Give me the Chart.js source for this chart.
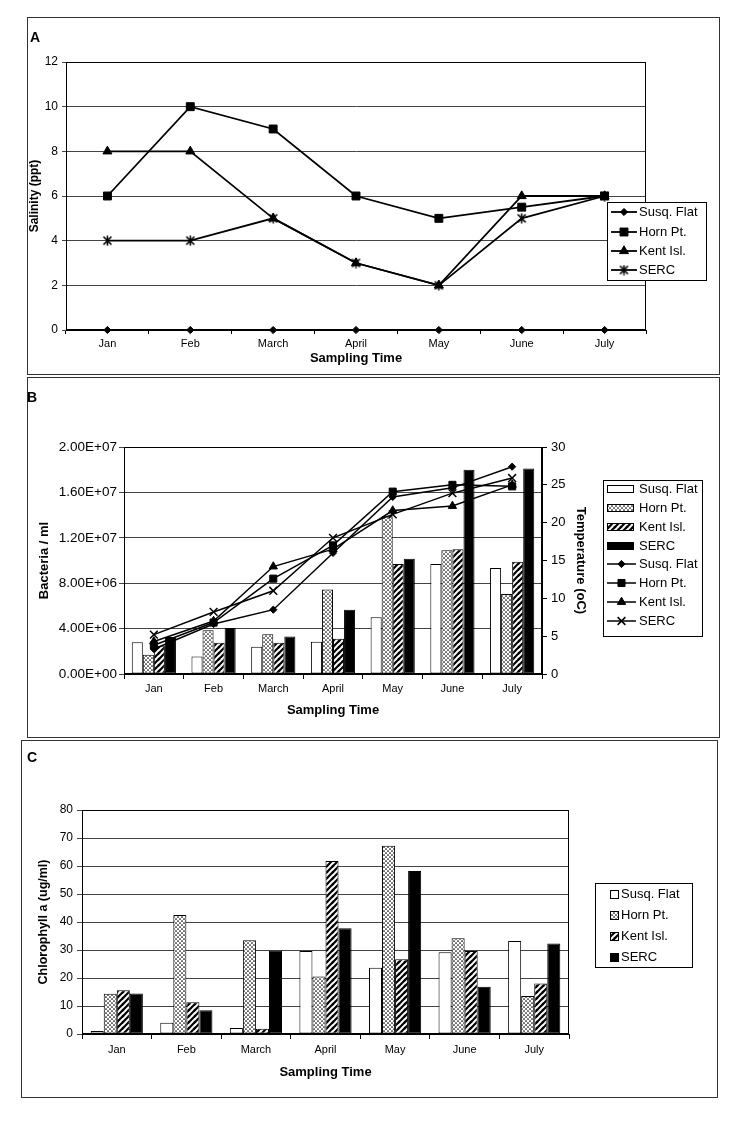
<!DOCTYPE html>
<html><head><meta charset="utf-8">
<script src="https://cdn.jsdelivr.net/npm/chart.js@4.4.0/dist/chart.umd.min.js"></script>
<style>
body{margin:0;background:#fff;width:733px;height:1122px;position:relative;overflow:hidden;font-family:"Liberation Sans",Arial,sans-serif;}
.panel{position:absolute;box-sizing:border-box;border:1px solid #333;}
canvas{position:absolute;}
.lbl{position:absolute;font-weight:bold;font-size:14px;line-height:14px;color:#000;}
</style></head><body>
<div class="panel" style="left:27px;top:17px;width:693px;height:358px"></div>
<div class="panel" style="left:27px;top:377px;width:693px;height:361px"></div>
<div class="panel" style="left:21px;top:740px;width:697px;height:358px"></div>
<canvas id="cA" width="693" height="358" style="left:27px;top:17px"></canvas>
<canvas id="cB" width="693" height="361" style="left:27px;top:377px"></canvas>
<canvas id="cC" width="697" height="358" style="left:21px;top:740px"></canvas>
<div class="lbl" style="left:30px;top:30px">A</div>
<div class="lbl" style="left:27px;top:390px">B</div>
<div class="lbl" style="left:27px;top:750px">C</div>
<script>
// ---------- DATA ----------
const months = ['Jan','Feb','March','April','May','June','July'];
const sites = ['Susq. Flat','Horn Pt.','Kent Isl.','SERC'];

// Panel A: salinity (ppt)
const salinitySusq = [0, 0, 0, 0, 0, 0, 0];
const salinityHorn = [6, 10, 9, 6, 5, 5.5, 6];
const salinityKent = [8, 8, 5, 3, 2, 6, 6];
const salinitySERC = [4, 4, 5, 3, 2, 5, 6];
const salinityTicks = [0, 2, 4, 6, 8, 10, 12];

// Panel B: bacteria / ml (bars) and temperature oC (lines)
const bacteriaSusq = [2.8e6, 1.55e6, 2.4e6, 2.85e6, 5.0e6, 9.7e6, 9.35e6];
const bacteriaHorn = [1.7e6, 3.85e6, 3.5e6, 7.45e6, 13.9e6, 10.9e6, 7.05e6];
const bacteriaKent = [2.5e6, 2.75e6, 2.75e6, 3.1e6, 9.7e6, 11.0e6, 9.9e6];
const bacteriaSERC = [3.25e6, 4.05e6, 3.3e6, 5.65e6, 10.15e6, 18.0e6, 18.1e6];
const tempSusq = [3.3, 6.6, 8.5, 16.0, 23.4, 24.6, 27.4];
const tempHorn = [3.8, 6.8, 12.6, 17.0, 24.1, 25.0, 24.8];
const tempKent = [4.3, 7.0, 14.2, 16.5, 21.6, 22.2, 25.0];
const tempSERC = [5.2, 8.2, 11.0, 18.0, 21.1, 23.9, 25.9];
const bacteriaTicks = [0, 4e6, 8e6, 12e6, 16e6, 20e6];
const tempTicks = [0, 5, 10, 15, 20, 25, 30];

// Panel C: chlorophyll a (ug/ml)
const chlSusq = [1.1, 4.0, 2.1, 29.6, 23.7, 29.2, 33.2];
const chlHorn = [14.4, 42.5, 33.5, 20.5, 67.2, 34.2, 13.6];
const chlKent = [15.6, 11.3, 1.9, 61.8, 26.7, 29.6, 18.0];
const chlSERC = [14.5, 8.5, 29.7, 37.8, 58.2, 16.9, 32.3];
const chlTicks = [0, 10, 20, 30, 40, 50, 60, 70, 80];

// ---------- STYLE HELPERS ----------
const FONT = "'Liberation Sans', Arial, sans-serif";
Chart.defaults.font.family = FONT;
Chart.defaults.color = '#000';
const GRID = '#444';

function dotTile(){
  const c=document.createElement('canvas'); c.width=4; c.height=4;
  const g=c.getContext('2d'); g.fillStyle='#fff'; g.fillRect(0,0,4,4);
  g.fillStyle='#000';
  g.beginPath(); g.arc(1,1,0.85,0,Math.PI*2); g.fill();
  g.beginPath(); g.arc(3,3,0.85,0,Math.PI*2); g.fill();
  return c;
}
function hatchTile(){
  const c=document.createElement('canvas'); c.width=6; c.height=6;
  const g=c.getContext('2d'); g.fillStyle='#fff'; g.fillRect(0,0,6,6);
  g.strokeStyle='#000'; g.lineWidth=2.2; g.lineCap='square';
  [[-6,6,6,-6],[0,6,6,0],[0,12,12,0]].forEach(([a,b,cc,d])=>{g.beginPath();g.moveTo(a,b);g.lineTo(cc,d);g.stroke();});
  g.beginPath(); g.moveTo(-3,3); g.lineTo(3,-3); g.stroke();
  g.beginPath(); g.moveTo(3,9); g.lineTo(9,3); g.stroke();
  return c;
}
function starMarker(){
  const c=document.createElement('canvas'); c.width=11; c.height=11;
  const g=c.getContext('2d'); g.strokeStyle='#000'; g.lineWidth=1.6;
  g.beginPath(); g.moveTo(1.5,1.5); g.lineTo(9.5,9.5); g.moveTo(9.5,1.5); g.lineTo(1.5,9.5);
  g.moveTo(5.5,0.5); g.lineTo(5.5,10.5); g.stroke();
  return c;
}
function patterns(canvas){
  const ctx=canvas.getContext('2d');
  return {dot: ctx.createPattern(dotTile(),'repeat'), hatch: ctx.createPattern(hatchTile(),'repeat')};
}
function sciLabel(v){
  if(v===0) return '0.00E+00';
  const e=Math.floor(Math.log10(v)); const m=v/Math.pow(10,e);
  return m.toFixed(2)+'E+'+String(e).padStart(2,'0');
}

const framePlugin = {
  id:'frame',
  afterDraw(chart){
    const a=chart.chartArea, ctx=chart.ctx;
    ctx.save(); ctx.strokeStyle='#000'; ctx.lineWidth=1;
    ctx.strokeRect(Math.round(a.left)+0.5, Math.round(a.top)+0.5, Math.round(a.right-a.left)-1, Math.round(a.bottom-a.top)-1);
    ctx.restore();
  }
};

function makeLegend(o){
  return {
    id:'boxLegend',
    afterDraw(chart){
      const ctx=chart.ctx; ctx.save();
      ctx.fillStyle='#fff'; ctx.fillRect(o.x,o.y,o.w,o.h);
      ctx.strokeStyle='#000'; ctx.lineWidth=1;
      ctx.strokeRect(o.x+0.5,o.y+0.5,o.w,o.h);
      ctx.font=o.fontSize+'px '+FONT; ctx.textBaseline='middle'; ctx.textAlign='left';
      chart.data.datasets.forEach((ds,i)=>{
        const y=o.rows[i];
        const isLine=(ds.type||chart.config.type)==='line';
        if(isLine){
          ctx.strokeStyle='#000'; ctx.lineWidth=ds.borderWidth;
          ctx.beginPath(); ctx.moveTo(o.lineX0,y); ctx.lineTo(o.lineX1,y); ctx.stroke();
          ctx.fillStyle=ds.pointBackgroundColor; ctx.strokeStyle=ds.pointBorderColor; ctx.lineWidth=ds.pointBorderWidth;
          Chart.helpers.drawPoint(ctx,{pointStyle:ds.pointStyle,radius:ds.pointRadius,rotation:0,borderWidth:ds.pointBorderWidth},(o.lineX0+o.lineX1)/2,y);
        } else {
          const top=Math.round(y-o.swH/2);
          ctx.fillStyle=ds.backgroundColor; ctx.fillRect(o.swX,top,o.swW,o.swH);
          ctx.strokeStyle='#000'; ctx.lineWidth=1; ctx.strokeRect(o.swX+0.5,top+0.5,o.swW-1,o.swH-1);
        }
        ctx.fillStyle='#000'; ctx.fillText(ds.label,o.textX,y+0.5);
      });
      ctx.restore();
    }
  };
}

function lineDs(label,data,style,radius,extra){
  return Object.assign({type:'line',label,data,borderColor:'#000',backgroundColor:'#000',borderWidth:1.8,
    pointStyle:style,pointRadius:radius,pointHoverRadius:radius,pointBackgroundColor:'#000',pointBorderColor:'#000',
    pointBorderWidth:1,tension:0,fill:false,clip:false},extra||{});
}
function barDs(label,data,bg,catPct,extra){
  return Object.assign({type:'bar',label,data,backgroundColor:bg,borderColor:'#000',borderWidth:1,borderSkipped:false,
    barPercentage:1,categoryPercentage:catPct},extra||{});
}

// ---------- PANEL A ----------
(function(){
  const cv=document.getElementById('cA');
  new Chart(cv,{
    type:'line',
    data:{labels:months,datasets:[
      lineDs(sites[0],salinitySusq,'rectRot',3.6),
      lineDs(sites[1],salinityHorn,'rect',5.6),
      lineDs(sites[2],salinityKent,'triangle',5.2),
      lineDs(sites[3],salinitySERC,starMarker(),5)
    ]},
    options:{
      responsive:false,animation:false,events:[],
      layout:{padding:{left:0,right:74,top:45,bottom:5}},
      plugins:{legend:{display:false},tooltip:{enabled:false}},
      scales:{
        x:{offset:true,grid:{offset:true,drawOnChartArea:false,tickLength:4,color:'#000'},border:{color:'#000'},
           ticks:{font:{size:11},padding:3,maxRotation:0,autoSkip:false},
           title:{display:true,text:'Sampling Time',font:{size:13,weight:'bold'},padding:{top:0,bottom:4}},
           afterFit(s){s.height=40;}},
        y:{min:salinityTicks[0],max:salinityTicks[salinityTicks.length-1],
           ticks:{stepSize:salinityTicks[1]-salinityTicks[0],font:{size:12},padding:4},
           grid:{color:GRID,tickLength:4},border:{color:'#000'},
           title:{display:true,text:'Salinity (ppt)',font:{size:12,weight:'bold'},padding:{top:0,bottom:0}},
           afterFit(s){s.width=39;}}
      }
    },
    plugins:[framePlugin,makeLegend({x:580,y:185,w:99,h:78,rows:[195,215,234,253],lineX0:584,lineX1:610,textX:612,fontSize:13})]
  });
})();

// ---------- PANEL B ----------
(function(){
  const cv=document.getElementById('cB');
  const p=patterns(cv);
  new Chart(cv,{
    type:'bar',
    data:{labels:months,datasets:[
      barDs(sites[0],bacteriaSusq,'#fff',0.74,{yAxisID:'y',order:2}),
      barDs(sites[1],bacteriaHorn,p.dot,0.74,{yAxisID:'y',order:2}),
      barDs(sites[2],bacteriaKent,p.hatch,0.74,{yAxisID:'y',order:2}),
      barDs(sites[3],bacteriaSERC,'#000',0.74,{yAxisID:'y',order:2}),
      lineDs(sites[0],tempSusq,'rectRot',3.6,{yAxisID:'y1',order:1,borderWidth:1.5}),
      lineDs(sites[1],tempHorn,'rect',5,{yAxisID:'y1',order:1,borderWidth:1.5}),
      lineDs(sites[2],tempKent,'triangle',4.8,{yAxisID:'y1',order:1,borderWidth:1.5}),
      lineDs(sites[3],tempSERC,'crossRot',5.5,{yAxisID:'y1',order:1,borderWidth:1.5,pointBorderWidth:1.5})
    ]},
    options:{
      responsive:false,animation:false,events:[],
      layout:{padding:{left:6,right:128,top:70,bottom:16}},
      plugins:{legend:{display:false},tooltip:{enabled:false}},
      scales:{
        x:{offset:true,grid:{offset:true,drawOnChartArea:false,tickLength:5,color:'#000'},border:{color:'#000'},
           ticks:{font:{size:11},padding:3,maxRotation:0,autoSkip:false},
           title:{display:true,text:'Sampling Time',font:{size:13,weight:'bold'},padding:{top:0,bottom:4}},
           afterFit(s){s.height=48;}},
        y:{position:'left',min:bacteriaTicks[0],max:bacteriaTicks[bacteriaTicks.length-1],
           ticks:{stepSize:bacteriaTicks[1]-bacteriaTicks[0],font:{size:13.5},padding:2,callback:v=>sciLabel(v)},
           grid:{color:GRID,tickLength:5},border:{color:'#000'},
           title:{display:true,text:'Bacteria / ml',font:{size:13,weight:'bold'}},
           afterFit(s){s.width=91;}},
        y1:{position:'right',min:tempTicks[0],max:tempTicks[tempTicks.length-1],
           ticks:{stepSize:tempTicks[1]-tempTicks[0],font:{size:13},padding:4},
           grid:{drawOnChartArea:false,tickLength:5,color:'#000'},border:{color:'#000'},
           title:{display:true,text:'Temperature (oC)',font:{size:13,weight:'bold'}},
           afterFit(s){s.width=50;}}
      }
    },
    plugins:[framePlugin,makeLegend({x:576,y:103,w:99,h:156,rows:[112,131,150,169,187,206,225,244],
      swX:580,swW:27,swH:8,lineX0:580,lineX1:609,textX:612,fontSize:13})]
  });
})();

// ---------- PANEL C ----------
(function(){
  const cv=document.getElementById('cC');
  const p=patterns(cv);
  new Chart(cv,{
    type:'bar',
    data:{labels:months,datasets:[
      barDs(sites[0],chlSusq,'#fff',0.75),
      barDs(sites[1],chlHorn,p.dot,0.75),
      barDs(sites[2],chlKent,p.hatch,0.75),
      barDs(sites[3],chlSERC,'#000',0.75)
    ]},
    options:{
      responsive:false,animation:false,events:[],
      layout:{padding:{left:11,right:149,top:70,bottom:14}},
      plugins:{legend:{display:false},tooltip:{enabled:false}},
      scales:{
        x:{offset:true,grid:{offset:true,drawOnChartArea:false,tickLength:5,color:'#000'},border:{color:'#000'},
           ticks:{font:{size:11},padding:4,maxRotation:0,autoSkip:false},
           title:{display:true,text:'Sampling Time',font:{size:13,weight:'bold'},padding:{top:0,bottom:4}},
           afterFit(s){s.height=50;}},
        y:{min:chlTicks[0],max:chlTicks[chlTicks.length-1],
           ticks:{stepSize:chlTicks[1]-chlTicks[0],font:{size:12},padding:4},
           grid:{color:GRID,tickLength:5},border:{color:'#000'},
           title:{display:true,text:'Chlorophyll a (ug/ml)',font:{size:12.5,weight:'bold'}},
           afterFit(s){s.width=50;}}
      }
    },
    plugins:[framePlugin,makeLegend({x:574,y:143,w:97,h:84,rows:[154,175,196,217],
      swX:589,swW:9,swH:9,textX:600,fontSize:13})]
  });
})();
</script>
</body></html>
